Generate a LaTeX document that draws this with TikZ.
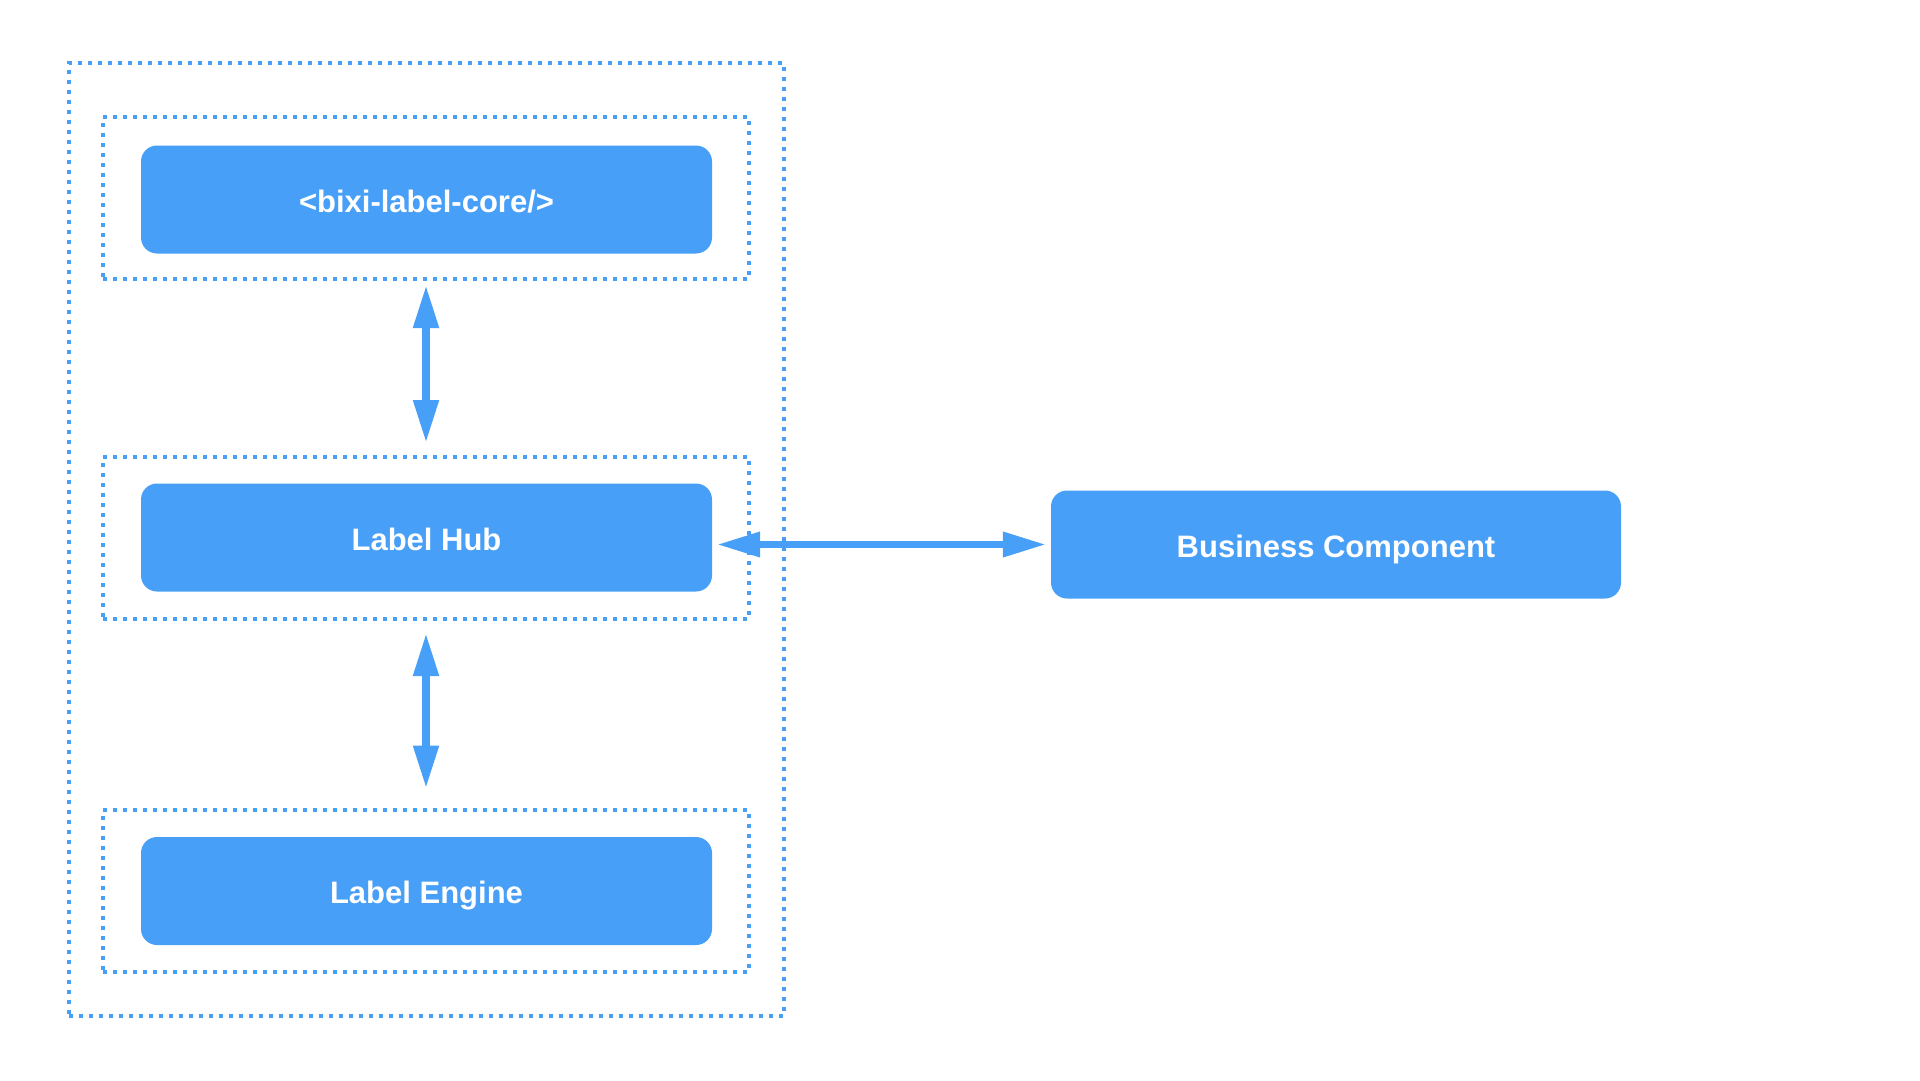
\documentclass[tikz,border=0pt]{standalone}
\usepackage{fontspec}
\setmainfont{Liberation Sans}
\usetikzlibrary{arrows.meta, positioning, calc}
\definecolor{HubBlue}{RGB}{71, 159, 248}

\begin{document}
\begin{tikzpicture}[
    x=1pt, y=-1pt,
    block/.style={fill=HubBlue, rounded corners=16pt, minimum width=571pt, minimum height=108pt, font=\fontsize{31}{37}\selectfont\bfseries, text=white, inner sep=0pt, text height=25pt, text depth=0pt},
    groupbox/.style={draw=HubBlue, line width=4pt, dash pattern=on 4pt off 6pt, minimum width=646pt, minimum height=162pt, inner sep=0pt},
    link/.style={draw=HubBlue, line width=8pt, {Triangle[length=43pt, width=24pt]}-{Triangle[length=43pt, width=24pt]}}
  ]
    \useasboundingbox (0,0) rectangle (1920,1080);

    % Outer frame
    \node[groupbox, minimum width=715pt, minimum height=953pt] (frame) at (426.5, 539.5) {};

    % Groups (left column)
    \node[groupbox] (coregrp) at (426, 198) {};
    \node[groupbox] (hubgrp) at (426, 538) {};
    \node[groupbox] (enginegrp) at (426, 890.5) {};

    % Blocks
    \node[block] (core) at (426.5, 199.5) {<bixi-label-core/>};
    \node[block] (hub) at (426.5, 537.5) {Label Hub};
    \node[block] (engine) at (426.5, 891) {Label Engine};
    \node[block, minimum width=570pt] (business) at (1336, 544.5) {Business Component};

    % Arrows
    \draw[link, shorten <=4pt, shorten >=12pt] (coregrp.south) -- (hubgrp.north);
    \draw[link, shorten <=12pt, shorten >=19pt] (hubgrp.south) -- (enginegrp.north);
    \draw[link, line width=7pt, shorten <=5pt, shorten >=5pt] (hub.east |- business.west) -- (business.west);
  \end{tikzpicture}
\end{document}
